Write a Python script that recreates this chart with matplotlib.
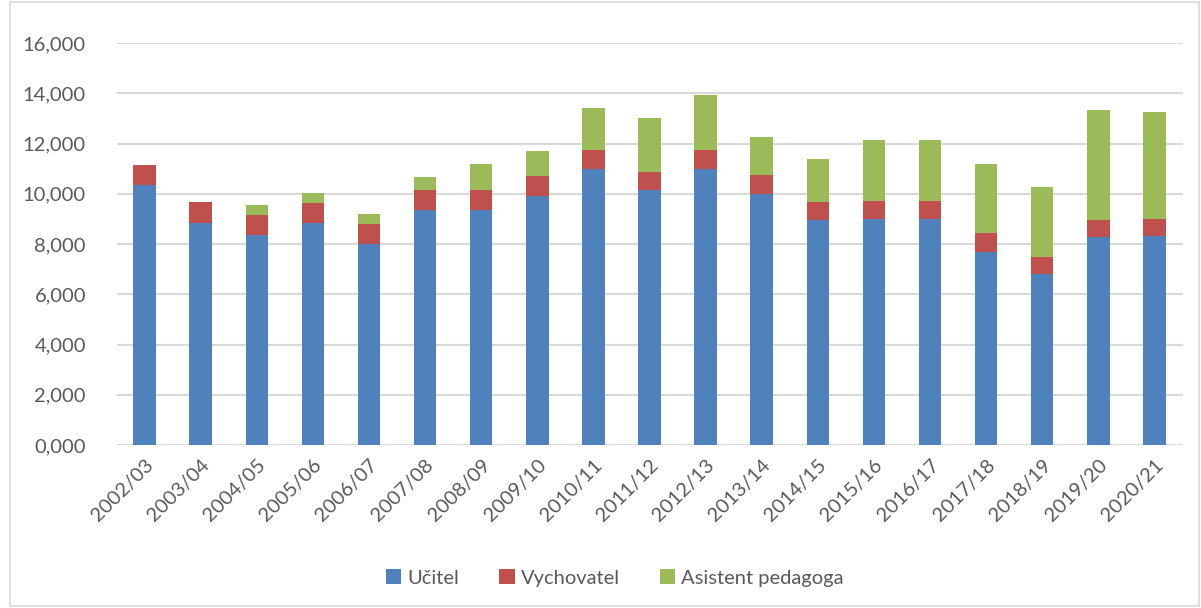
#!/usr/bin/env python
import sys
import numpy as np
import matplotlib
matplotlib.use('Agg')
import matplotlib.pyplot as plt
from matplotlib.patches import Rectangle
from matplotlib.ticker import FuncFormatter

years = ['2002/03', '2003/04', '2004/05', '2005/06', '2006/07', '2007/08',
         '2008/09', '2009/10', '2010/11', '2011/12', '2012/13', '2013/14',
         '2014/15', '2015/16', '2016/17', '2017/18', '2018/19', '2019/20',
         '2020/21']
ucitel = [10.36, 8.85, 8.35, 8.85, 8.00, 9.37, 9.37, 9.91, 11.00, 10.13,
          11.00, 10.00, 8.95, 8.99, 8.99, 7.70, 6.80, 8.26, 8.32]
vychovatel = [0.80, 0.81, 0.81, 0.79, 0.80, 0.78, 0.78, 0.80, 0.74, 0.74,
              0.74, 0.73, 0.71, 0.73, 0.73, 0.74, 0.69, 0.70, 0.68]
asistent = [0.0, 0.0, 0.38, 0.40, 0.39, 0.50, 1.02, 0.99, 1.68, 2.13,
            2.20, 1.51, 1.71, 2.41, 2.41, 2.76, 2.76, 4.36, 4.27]
series = ['Učitel', 'Vychovatel', 'Asistent pedagoga']
colors = ['#4f81bd', '#c0504d', '#9bbb59']
yticks = [0, 2, 4, 6, 8, 10, 12, 14, 16]


def main():
    plt.rcParams['font.family'] = ['Lato', 'DejaVu Sans']
    fig = plt.figure(figsize=(12.01, 6.08), dpi=100)
    W, H = 1201, 608
    ax = fig.add_axes([116.5 / W, 1 - 445 / H, 1066 / W, 402 / H])

    x = np.arange(len(years))
    u = np.array(ucitel)
    v = np.array(vychovatel)
    a = np.array(asistent)
    ax.bar(x, u, width=0.4, color=colors[0], label=series[0], zorder=3)
    ax.bar(x, v, width=0.4, bottom=u, color=colors[1], label=series[1], zorder=3)
    ax.bar(x, a, width=0.4, bottom=u + v, color=colors[2], label=series[2], zorder=3)

    ax.set_xlim(-0.5, len(years) - 0.5)
    ax.set_ylim(0, 16)
    ax.set_yticks(yticks)
    ax.yaxis.set_major_formatter(FuncFormatter(lambda val, pos: '{:.3f}'.format(val).replace('.', ',')))
    ax.grid(axis='y', color='#d9d9d9', linewidth=1.5, zorder=0)
    for s in ax.spines.values():
        s.set_visible(False)
    ax.tick_params(axis='y', length=0, pad=22, labelsize=14.5, labelcolor='#595959')
    ax.set_xticks(x)
    ax.set_xticklabels(years, rotation=45, ha='right', rotation_mode='anchor')
    ax.tick_params(axis='x', length=0, pad=8, labelsize=14.5, labelcolor='#595959')

    leg = fig.legend(loc='center', bbox_to_anchor=(0.512, 1 - 578 / H), ncol=3,
                     frameon=False, fontsize=14.5, handlelength=0.75,
                     handleheight=0.75, handletextpad=0.3, columnspacing=2.0)
    for t in leg.get_texts():
        t.set_color('#595959')

    fig.patches.append(Rectangle((10 / W, 2 / H), 1 - 12 / W, 1 - 4 / H,
                                 transform=fig.transFigure, fill=False,
                                 edgecolor='#d9d9d9', linewidth=1.2))
    fig.savefig('out.png', dpi=100)


if __name__ == '__main__':
    sys.exit(main())
